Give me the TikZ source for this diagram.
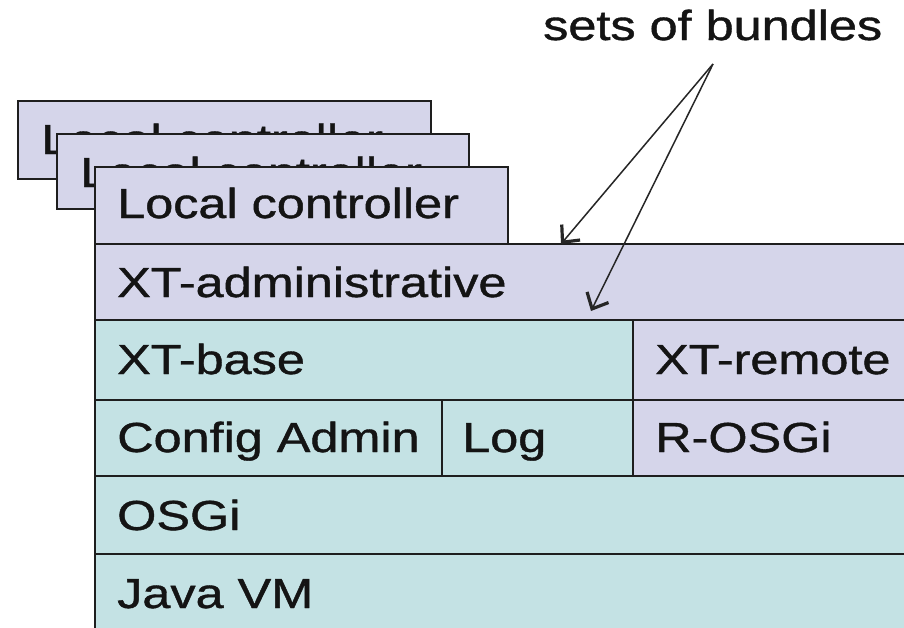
\documentclass[tikz,border=0pt]{standalone}
\usepackage{fontspec}
\setmainfont[FakeBold=0.9]{Liberation Sans}
\usetikzlibrary{arrows.meta}
\definecolor{lav}{RGB}{213,213,234}
\definecolor{aqua}{RGB}{196,226,228}
\definecolor{edge}{RGB}{30,30,30}
\tikzset{
  layer/.style={draw=edge, line width=2pt, rectangle, inner sep=0pt, anchor=north west},
  lavbox/.style={layer, fill=lav},
  aquabox/.style={layer, fill=aqua},
  lbl/.style={anchor=base west, inner sep=0pt, font=\fontsize{42}{50}\selectfont, text=black!92},
  ptr/.style={draw=black!85, line width=1.5pt,
    -{Straight Barb[length=13pt,width=24pt,line width=3.2pt]}},
}
\newcommand\wide[1]{\scalebox{1.2}[1]{#1}}
\begin{document}
\begin{tikzpicture}[x=1pt,y=-1pt]
  \useasboundingbox (0,0) rectangle (904,627);
  \clip (0,0) rectangle (904,627);
  \fill[white] (0,0) rectangle (904,627);

  % stacked local controllers
  \node[lavbox, minimum width=413pt, minimum height=78pt] (lcA) at (17,100) {};
  \node[lbl] (lcAt) at (41,154) {\wide{Local controller}};
  \node[lavbox, minimum width=412pt, minimum height=75pt] (lcB) at (56,133) {};
  \node[lbl] (lcBt) at (80,187) {\wide{Local controller}};
  \node[lavbox, minimum width=413pt, minimum height=77pt] (lcC) at (94,166) {};
  \node[lbl] (lcCt) at (117,218) {\wide{Local controller}};

  % layered bundle stack
  \node[lavbox, minimum width=830pt, minimum height=76pt] (adm) at (94,243) {};
  \node[lbl] (admt) at (117,297) {\wide{XT-administrative}};

  \node[aquabox, minimum width=538pt, minimum height=80pt] (base) at (94,319) {};
  \node[lbl] (baset) at (117,374) {\wide{XT-base}};
  \node[lavbox, minimum width=292pt, minimum height=80pt] (rem) at (632,319) {};
  \node[lbl] (remt) at (655,374) {\wide{XT-remote}};

  \node[aquabox, minimum width=347pt, minimum height=76pt] (cfg) at (94,399) {};
  \node[lbl] (cfgt) at (117,452) {\wide{Config Admin}};
  \node[aquabox, minimum width=191pt, minimum height=76pt] (log) at (441,399) {};
  \node[lbl] (logt) at (462,452) {\wide{Log}};
  \node[lavbox, minimum width=292pt, minimum height=76pt] (rosgi) at (632,399) {};
  \node[lbl] (rosgit) at (655,452) {\wide{R-OSGi}};

  \node[aquabox, minimum width=830pt, minimum height=78pt] (osgi) at (94,475) {};
  \node[lbl] (osgit) at (117,530) {\wide{OSGi}};
  \node[aquabox, minimum width=830pt, minimum height=90pt] (jvm) at (94,553) {};
  \node[lbl] (jvmt) at (117,608) {\wide{Java VM}};

  % annotation
  \node[lbl] (note) at (543,40) {\wide{sets of bundles}};
  \coordinate (src) at (713,64);
  \coordinate (tipA) at (561,244);
  \coordinate (tipB) at (591,311);
  \draw[ptr] (src) -- (tipA);
  \draw[ptr] (src) -- (tipB);
\end{tikzpicture}
\end{document}
